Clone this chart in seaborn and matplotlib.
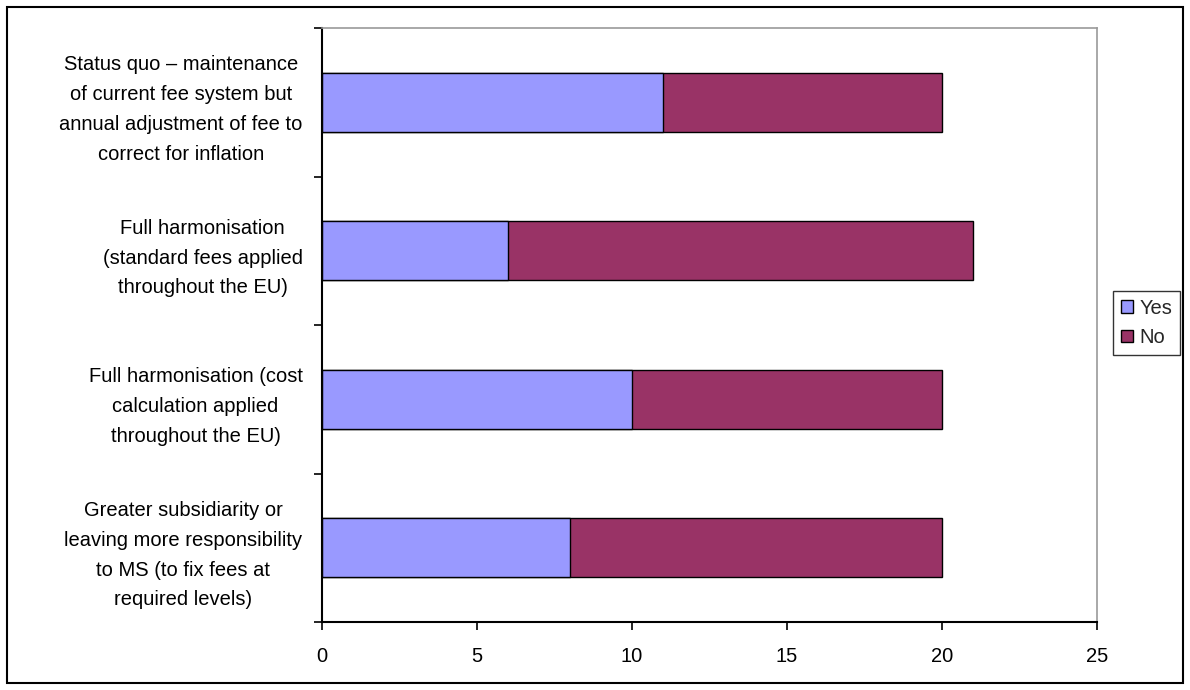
import matplotlib
matplotlib.use("Agg")
import matplotlib.pyplot as plt
import matplotlib.patches as mpatches
import seaborn as sns
import pandas as pd

# Survey responses per fee option
options = [
    "Status quo \u2013 maintenance\nof current fee system but\nannual adjustment of fee to\ncorrect for inflation",
    "Full harmonisation\n(standard fees applied\nthroughout the EU)",
    "Full harmonisation (cost\ncalculation applied\nthroughout the EU)",
    "Greater subsidiarity or\nleaving more responsibility\nto MS (to fix fees at\nrequired levels)",
]
yes_counts = [11, 6, 10, 8]
no_counts = [9, 15, 10, 12]
x_ticks = [0, 5, 10, 15, 20, 25]

YES_COLOR = "#9999FF"
NO_COLOR = "#993366"
FONT_SIZE = 14.5

sns.set_theme(style="white")
plt.rcParams["font.family"] = ["Liberation Sans", "DejaVu Sans"]

df = pd.DataFrame({
    "option": options,
    "Yes": yes_counts,
    "No": no_counts,
})
df["total"] = df["Yes"] + df["No"]

fig = plt.figure(figsize=(11.9, 6.9), dpi=100)
ax = fig.add_axes([322 / 1190, 1 - 622 / 690, 775 / 1190, 594 / 690])

# Stacked bars: full total in the "No" colour, "Yes" segment drawn over it
sns.barplot(data=df, y="option", x="total", orient="h", color=NO_COLOR,
            width=0.4, edgecolor="black", linewidth=1.0, saturation=1, ax=ax)
sns.barplot(data=df, y="option", x="Yes", orient="h", color=YES_COLOR,
            width=0.4, edgecolor="black", linewidth=1.0, saturation=1, ax=ax)

ax.set_xlim(0, 25)
ax.set_ylim(len(options) - 0.5, -0.5)
ax.set_xlabel("")
ax.set_ylabel("")
ax.set_xticks(x_ticks)
ax.set_xticklabels([str(t) for t in x_ticks], fontsize=FONT_SIZE, color="black")

# Category labels centred on bars, tick marks on the category boundaries
ax.set_yticks(range(len(options)))
ax.set_yticklabels(options, fontsize=FONT_SIZE, color="black",
                   multialignment="center", linespacing=1.72)
ax.set_yticks([i - 0.5 for i in range(len(options) + 1)], minor=True)
ax.tick_params(axis="y", which="major", length=0, pad=14)
ax.tick_params(axis="y", which="minor", length=6, width=1.2, color="black",
               direction="out", left=True)
ax.tick_params(axis="x", which="major", length=6, width=1.2, color="black",
               direction="out", bottom=True, pad=12)

for side in ("left", "bottom"):
    ax.spines[side].set_color("black")
    ax.spines[side].set_linewidth(1.5)
for side in ("top", "right"):
    ax.spines[side].set_color("#999999")
    ax.spines[side].set_linewidth(1.2)
    ax.spines[side].set_visible(True)
ax.grid(False)

handles = [
    mpatches.Patch(facecolor=YES_COLOR, edgecolor="black", label="Yes"),
    mpatches.Patch(facecolor=NO_COLOR, edgecolor="black", label="No"),
]
leg = fig.legend(handles=handles, loc="center left",
                 bbox_to_anchor=(1113 / 1190, 1 - 323 / 690),
                 frameon=True, fancybox=False, fontsize=FONT_SIZE,
                 handlelength=0.6, handleheight=0.6, handletextpad=0.3,
                 borderpad=0.4, labelspacing=0.5, borderaxespad=0)
leg.get_frame().set_edgecolor("black")
leg.get_frame().set_linewidth(1.0)

# Outer chart frame
fig.patches.append(mpatches.Rectangle((7 / 1190, 7 / 690), 1176 / 1190, 676 / 690,
                                      transform=fig.transFigure, fill=False,
                                      edgecolor="black", linewidth=1.5))

fig.savefig("out.png", dpi=100, facecolor="white")
